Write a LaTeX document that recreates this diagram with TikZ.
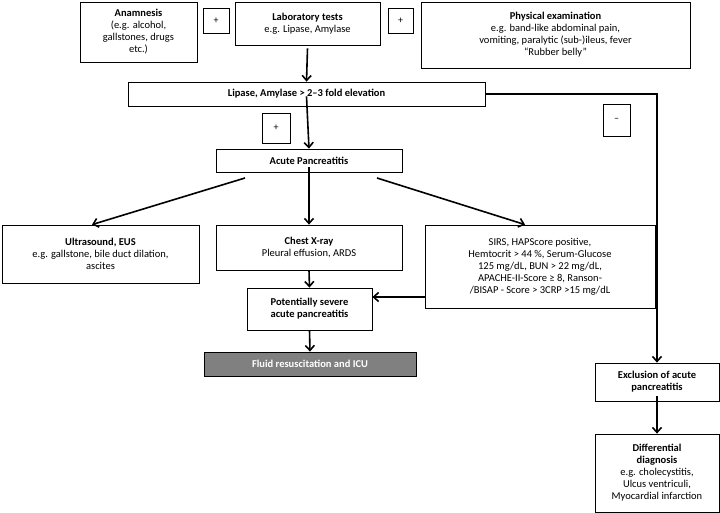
\documentclass[tikz,border=0pt]{standalone}
\usepackage{fontspec}
\setmainfont{Carlito}
\usetikzlibrary{arrows.meta}
\begin{document}
\begin{tikzpicture}[x=1pt,y=-1pt,
 bx/.style={draw,line width=0.8pt,align=center,inner sep=1pt,font=\fontsize{10.5}{12}\selectfont},
 sg/.style={draw,line width=0.8pt,font=\fontsize{10}{12}\selectfont},
 ar/.style={line width=1.6pt,-{Straight Barb[length=5pt,width=9pt]}}]
\useasboundingbox (0,0) rectangle (720,513);
\node[bx,minimum width=117pt,minimum height=60pt] (anam) at (138.5,32) {\textbf{Anamnesis}\\(e.g. alcohol,\\gallstones, drugs\\etc.)};
\node[sg,minimum width=26pt,minimum height=25pt] (p1) at (216,20.5) {+};
\node[bx,minimum width=145pt,minimum height=43pt] (lab) at (307.5,23.5) {\textbf{Laboratory tests}\\e.g. Lipase, Amylase};
\node[sg,minimum width=25pt,minimum height=25pt] (p2) at (400.5,20.5) {+};
\node[bx,minimum width=269pt,minimum height=66pt] (phys) at (555.5,35) {\textbf{Physical examination}\\e.g. band-like abdominal pain,\\vomiting, paralytic (sub-)ileus, fever\\“Rubber belly”};
\node[bx,minimum width=357pt,minimum height=24pt] (lip) at (306.5,94) {\textbf{Lipase, Amylase > 2–3 fold elevation}};
\node[sg,minimum width=27pt,minimum height=32pt] (mi) at (616.5,120) {–};
\node[sg,minimum width=28pt,minimum height=30pt] (p3) at (276,128) {+};
\node[bx,minimum width=186pt,minimum height=23pt] (acute) at (309,160.5) {\textbf{Acute Pancreatitis}};
\node[bx,minimum width=197pt,minimum height=58pt] (us) at (100.5,254) {\textbf{Ultrasound, EUS}\\e.g. gallstone, bile duct dilation,\\ascites};
\node[bx,minimum width=186pt,minimum height=45pt] (cxr) at (309,247.5) {\textbf{Chest X-ray}\\Pleural effusion, ARDS};
\node[bx,minimum width=230pt,minimum height=83pt] (sirs) at (540,266.5) {SIRS, HAPScore positive,\\Hemtocrit > 44 \%, Serum-Glucose\\125 mg/dL, BUN > 22 mg/dL,\\APACHE-II-Score ≥ 8, Ranson-\\/BISAP - Score > 3CRP >15 mg/dL};
\node[bx,minimum width=125pt,minimum height=42pt] (pot) at (309.5,309) {\textbf{Potentially severe}\\\textbf{acute pancreatitis}};
\node[bx,fill=black!50,text=white,minimum width=212pt,minimum height=24pt] (fl) at (310,364) {\textbf{Fluid resuscitation and ICU}};
\node[bx,minimum width=124pt,minimum height=38pt] (ex) at (657,382) {\textbf{Exclusion of acute}\\\textbf{pancreatitis}};
\node[bx,minimum width=124pt,minimum height=78pt] (dd) at (657,473) {\textbf{Differential}\\\textbf{diagnosis}\\e.g. cholecystitis,\\Ulcus ventriculi,\\Myocardial infarction};
\coordinate (c1) at (308,45);
\draw[ar] (lab.south) ++(0,3) -- (lip.north);
\draw[ar] (lip.east) -| (ex.north);
\draw[ar] ([yshift=10pt]lip.south) -- (acute.north);
\draw[ar] (245,178) -- (us.north -| 92,0);
\draw[ar] ([yshift=5pt]acute.south) -- (cxr.north);
\draw[ar] (377,178) -- (sirs.north -| 525,0);
\draw[ar] (sirs.west |- 0,297) -- (pot.east |- 0,297);
\draw[ar] (cxr.south) -- (pot.north);
\draw[ar] (pot.south) -- (fl.north);
\draw[ar] ([yshift=5pt]ex.south) -- (dd.north);
\end{tikzpicture}
\end{document}
